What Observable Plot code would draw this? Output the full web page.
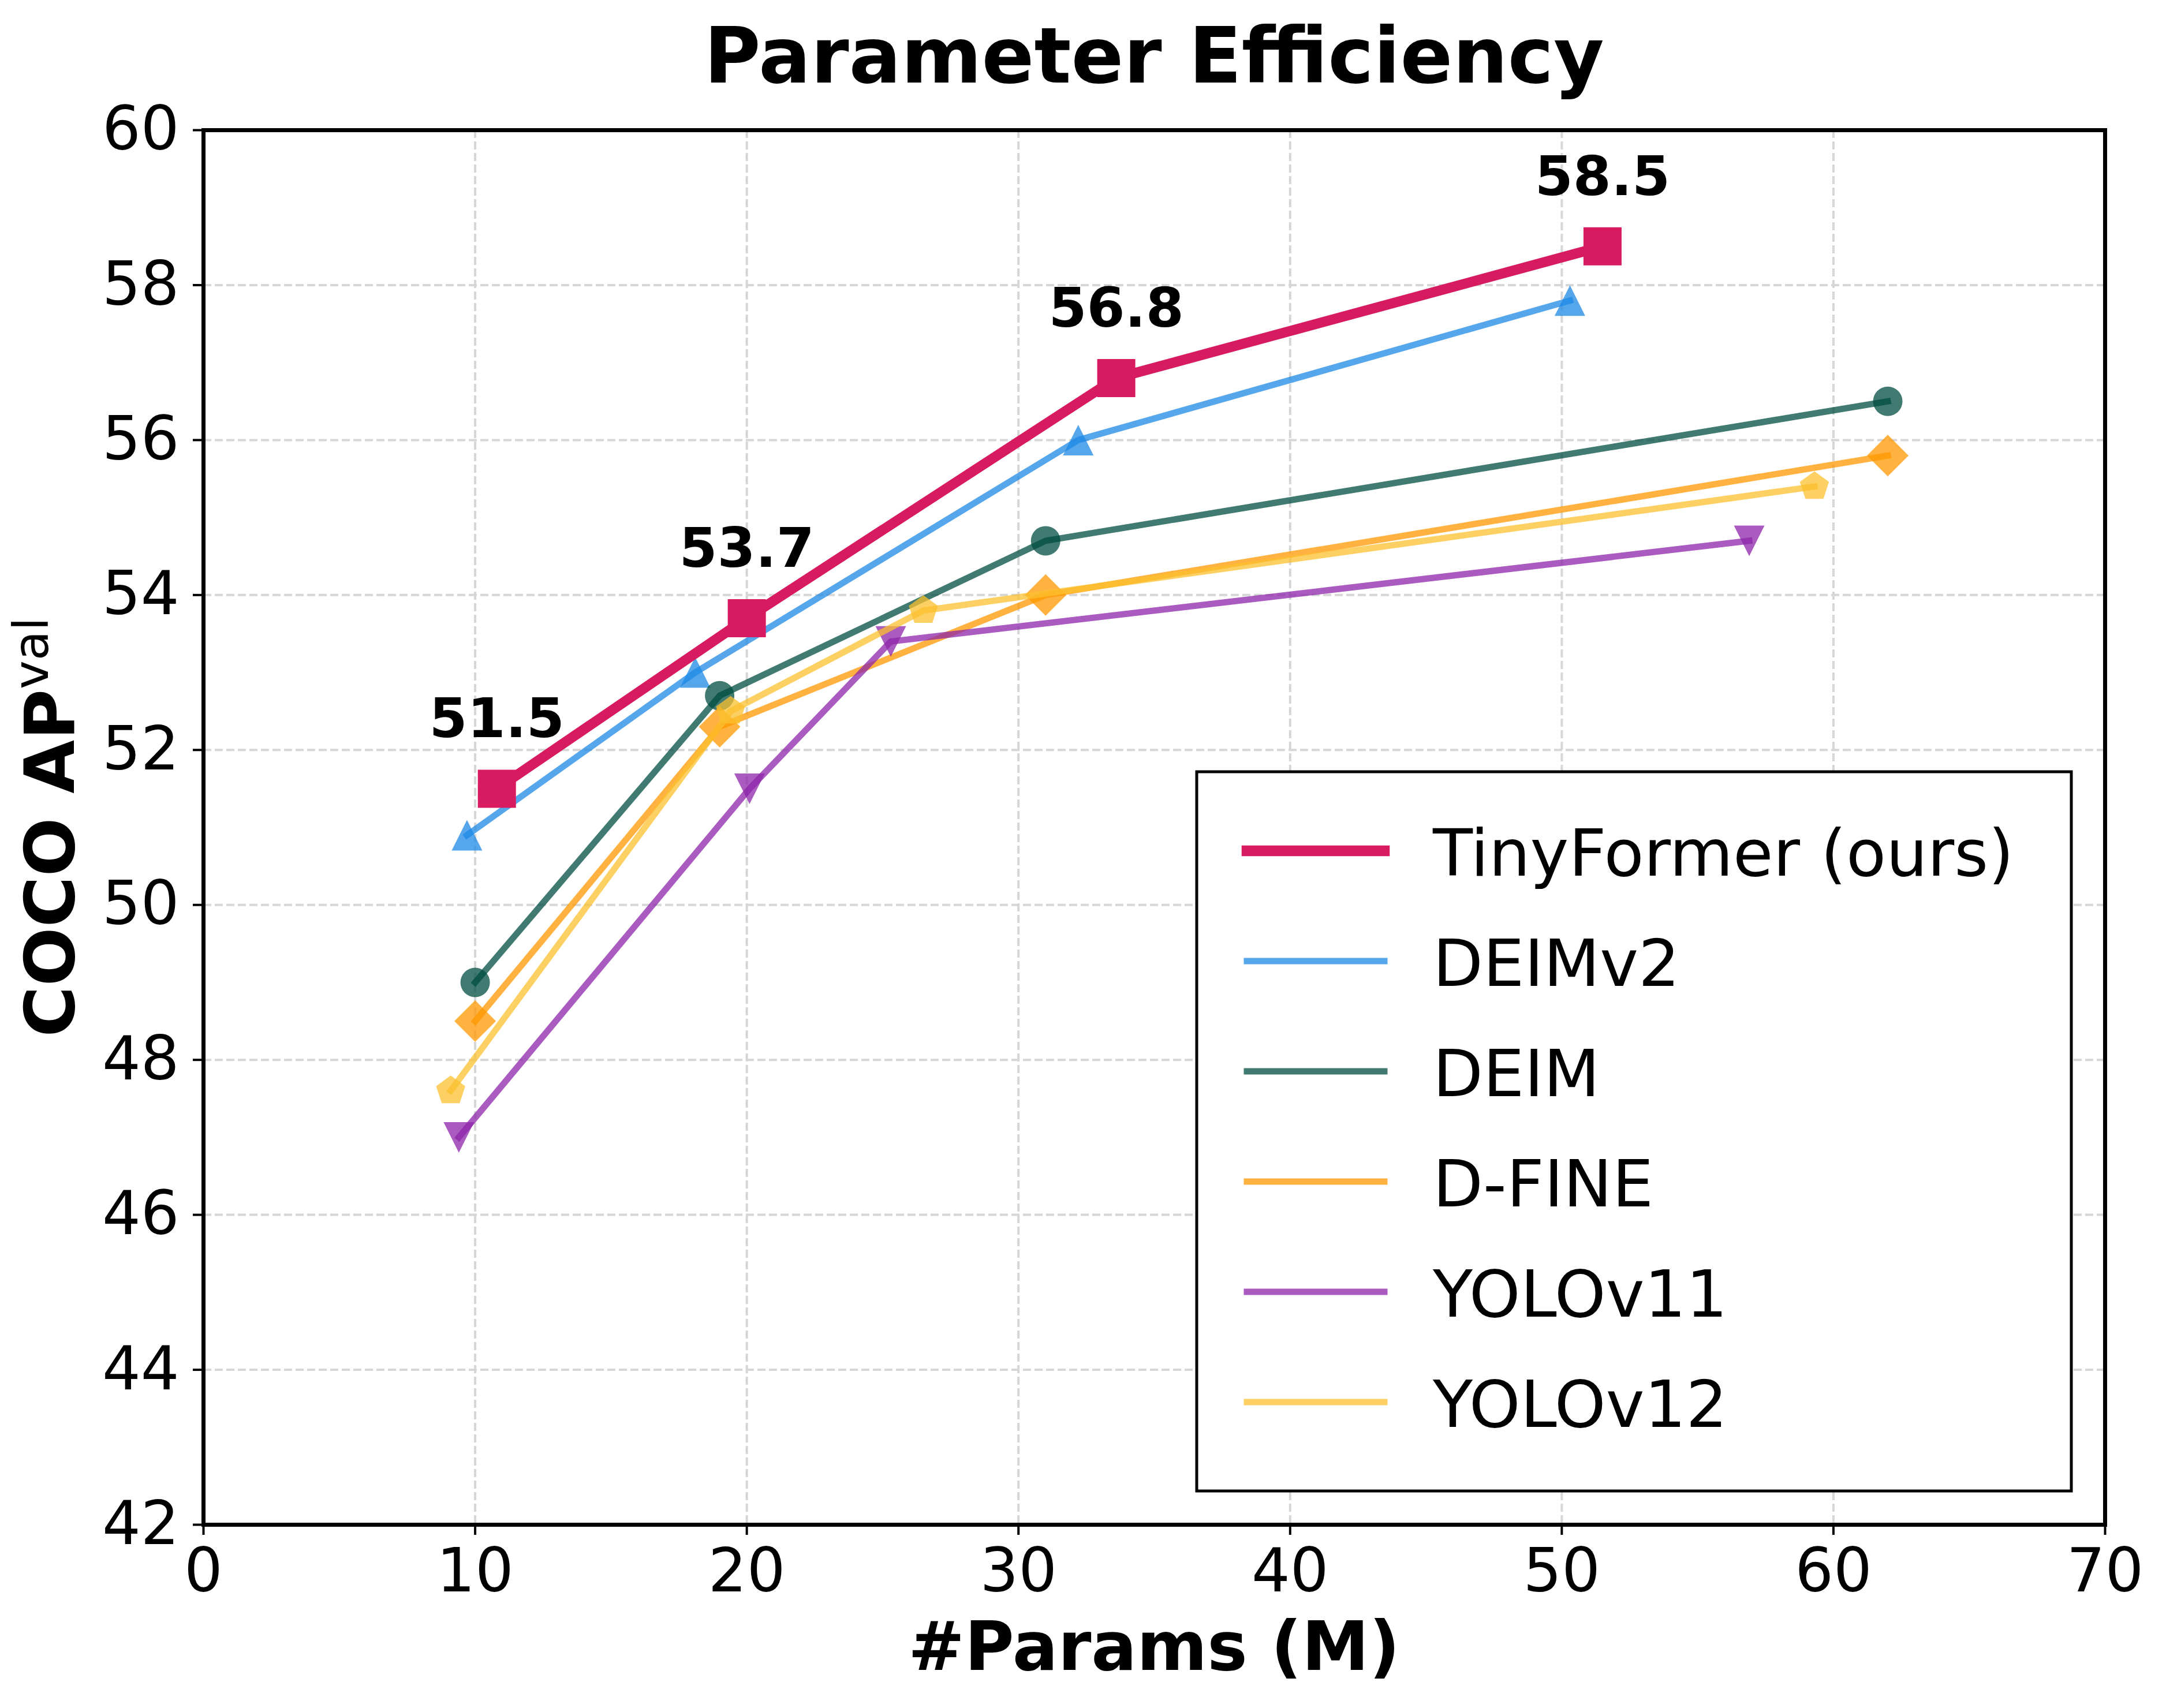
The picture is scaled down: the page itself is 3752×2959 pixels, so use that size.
<!DOCTYPE html>
<html>
<head>
<meta charset="utf-8">
<script src="https://cdn.jsdelivr.net/npm/d3@7"></script>
<script src="https://cdn.jsdelivr.net/npm/@observablehq/plot@0.6"></script>
<style>
  html, body { margin: 0; padding: 0; background: white; }
  #chart svg { display: block; }
</style>
</head>
<body>
<div id="chart"></div>
<script>
// ---------------- data ----------------
const chartTitle = "Parameter Efficiency";
const xLabel = "#Params (M)";
const yLabelMain = "COCO AP";
const yLabelSup = "val";

const xTicks = [0, 10, 20, 30, 40, 50, 60, 70];
const yTicks = [42, 44, 46, 48, 50, 52, 54, 56, 58, 60];

const seriesNames = ["TinyFormer (ours)", "DEIMv2", "DEIM", "D-FINE", "YOLOv11", "YOLOv12"];

const tinyParams   = [10.8, 20.0, 33.6, 51.5];
const tinyAP       = [51.5, 53.7, 56.8, 58.5];
const deimv2Params = [9.7, 18.1, 32.2, 50.3];
const deimv2AP     = [50.9, 53.0, 56.0, 57.8];
const deimParams   = [10.0, 19.0, 31.0, 62.0];
const deimAP       = [49.0, 52.7, 54.7, 56.5];
const dfineParams  = [10.0, 19.0, 31.0, 62.0];
const dfineAP      = [48.5, 52.3, 54.0, 55.8];
const yolo11Params = [9.4, 20.1, 25.3, 56.9];
const yolo11AP     = [47.0, 51.5, 53.4, 54.7];
const yolo12Params = [9.1, 19.4, 26.5, 59.3];
const yolo12AP     = [47.6, 52.5, 53.8, 55.4];

const seriesParams = [tinyParams, deimv2Params, deimParams, dfineParams, yolo11Params, yolo12Params];
const seriesAP     = [tinyAP, deimv2AP, deimAP, dfineAP, yolo11AP, yolo12AP];

// ---------------- styles ----------------
function rad(s) { return Math.sqrt(s / Math.PI); }
const symSquare = { draw(c, s) { const r = rad(s); c.moveTo(-r, -r); c.lineTo(r, -r); c.lineTo(r, r); c.lineTo(-r, r); c.closePath(); } };
const symTriUp = { draw(c, s) { const r = rad(s); c.moveTo(0, -r); c.lineTo(r, r); c.lineTo(-r, r); c.closePath(); } };
const symTriDown = { draw(c, s) { const r = rad(s); c.moveTo(0, r); c.lineTo(r, -r); c.lineTo(-r, -r); c.closePath(); } };
const symDiamond = { draw(c, s) { const r = rad(s); c.moveTo(0, -r); c.lineTo(r, 0); c.lineTo(0, r); c.lineTo(-r, 0); c.closePath(); } };
const symPentagon = { draw(c, s) { const r = rad(s);
  for (let k = 0; k < 5; k++) { const a = -Math.PI / 2 + k * 2 * Math.PI / 5; const px = r * Math.cos(a), py = r * Math.sin(a); if (k === 0) c.moveTo(px, py); else c.lineTo(px, py); }
  c.closePath(); } };

const styles = [
  { color: "#D81B60", width: 17.5, opacity: 1.0,  symbol: symSquare,   r: 33 },
  { color: "#1E88E5", width: 11,   opacity: 0.75, symbol: symTriUp,    r: 26.5 },
  { color: "#004D40", width: 11,   opacity: 0.75, symbol: "circle",    r: 25.5 },
  { color: "#FF9800", width: 11,   opacity: 0.75, symbol: symDiamond,  r: 36 },
  { color: "#8E24AA", width: 11,   opacity: 0.75, symbol: symTriDown,  r: 26.5 },
  { color: "#FBC02D", width: 11,   opacity: 0.75, symbol: symPentagon, r: 26.5 }
];

const W = 3752, H = 2959;
const mL = 352, mR = W - 3646, mT = 225, mB = H - 2641;

const tables = seriesNames.map((name, i) =>
  seriesParams[i].map((p, j) => ({ name, params: p, ap: seriesAP[i][j] })));

// draw order: others first, TinyFormer on top
const drawOrder = [1, 2, 3, 4, 5, 0];
const seriesMarks = [];
for (const i of drawOrder) {
  const st = styles[i];
  seriesMarks.push(Plot.line(tables[i], {
    x: "params", y: "ap", stroke: st.color, strokeWidth: st.width,
    strokeOpacity: st.opacity, strokeLinejoin: "round", strokeLinecap: "square"
  }));
  seriesMarks.push(Plot.dot(tables[i], {
    x: "params", y: "ap", symbol: st.symbol, r: st.r,
    fill: st.color, fillOpacity: st.opacity, stroke: "none"
  }));
}

const gridStyle = { stroke: "#d6d6d6", strokeOpacity: 1, strokeWidth: 4, strokeDasharray: "14,6" };
const intFmt = d3.format("d");

const svg = Plot.plot({
  width: W, height: H,
  marginLeft: mL, marginRight: mR, marginTop: mT, marginBottom: mB,
  style: { fontFamily: "DejaVu Sans", fontSize: "105px", background: "white", color: "black" },
  x: { domain: [0, 70] },
  y: { domain: [42, 60] },
  marks: [
    Plot.gridX(xTicks, gridStyle),
    Plot.gridY(yTicks, gridStyle),
    ...seriesMarks,
    Plot.text(tables[0], {
      x: "params", y: "ap", text: d => d.ap.toFixed(1),
      dy: -89, lineAnchor: "bottom", fontSize: 95, fontWeight: "bold", fill: "black"
    }),
    Plot.frame({ stroke: "black", strokeWidth: 7 }),
    Plot.axisX(xTicks, { tickSize: 18, tickPadding: 23, fontSize: 105, strokeWidth: 4, label: null, tickFormat: intFmt }),
    Plot.axisY(yTicks, { tickSize: 18, tickPadding: 24, fontSize: 105, strokeWidth: 4, label: null, tickFormat: intFmt })
  ]
});

const root = d3.select(svg);
const xr = svg.scale("x").range;
const yr = svg.scale("y").range;
const cx = (xr[0] + xr[1]) / 2;
const cy = (yr[0] + yr[1]) / 2;

// title
root.append("text")
  .attr("x", cx).attr("y", 143)
  .attr("text-anchor", "middle")
  .attr("font-family", "DejaVu Sans").attr("font-weight", "bold").attr("font-size", 134)
  .attr("fill", "black")
  .text(chartTitle);

// x label
root.append("text")
  .attr("x", cx).attr("y", 2893)
  .attr("text-anchor", "middle")
  .attr("font-family", "DejaVu Sans").attr("font-weight", "bold").attr("font-size", 117)
  .attr("fill", "black")
  .text(xLabel);

// y label with superscript
const yl = root.append("text")
  .attr("transform", `translate(128,${cy}) rotate(-90)`)
  .attr("text-anchor", "middle")
  .attr("font-family", "DejaVu Sans")
  .attr("fill", "black");
yl.append("tspan").attr("font-weight", "bold").attr("font-size", 120).text(yLabelMain);
yl.append("tspan").attr("font-weight", "normal").attr("font-size", 84).attr("dy", -45).text(yLabelSup);

// legend
const lg = root.append("g");
lg.append("rect")
  .attr("x", 2073).attr("y", 1337).attr("width", 1515).attr("height", 1246)
  .attr("fill", "white").attr("stroke", "black").attr("stroke-width", 5);
seriesNames.forEach((name, i) => {
  const st = styles[i];
  const ry = 1474 + 191 * i;
  lg.append("line")
    .attr("x1", 2160).attr("x2", 2398).attr("y1", ry).attr("y2", ry)
    .attr("stroke", st.color).attr("stroke-opacity", st.opacity)
    .attr("stroke-width", i === 0 ? 18.5 : 11).attr("stroke-linecap", "square");
  lg.append("text")
    .attr("x", 2482).attr("y", ry + 43)
    .attr("text-anchor", "start")
    .attr("font-family", "DejaVu Sans").attr("font-size", 113).attr("fill", "black")
    .text(name);
});

document.getElementById("chart").appendChild(svg);
</script>
</body>
</html>
